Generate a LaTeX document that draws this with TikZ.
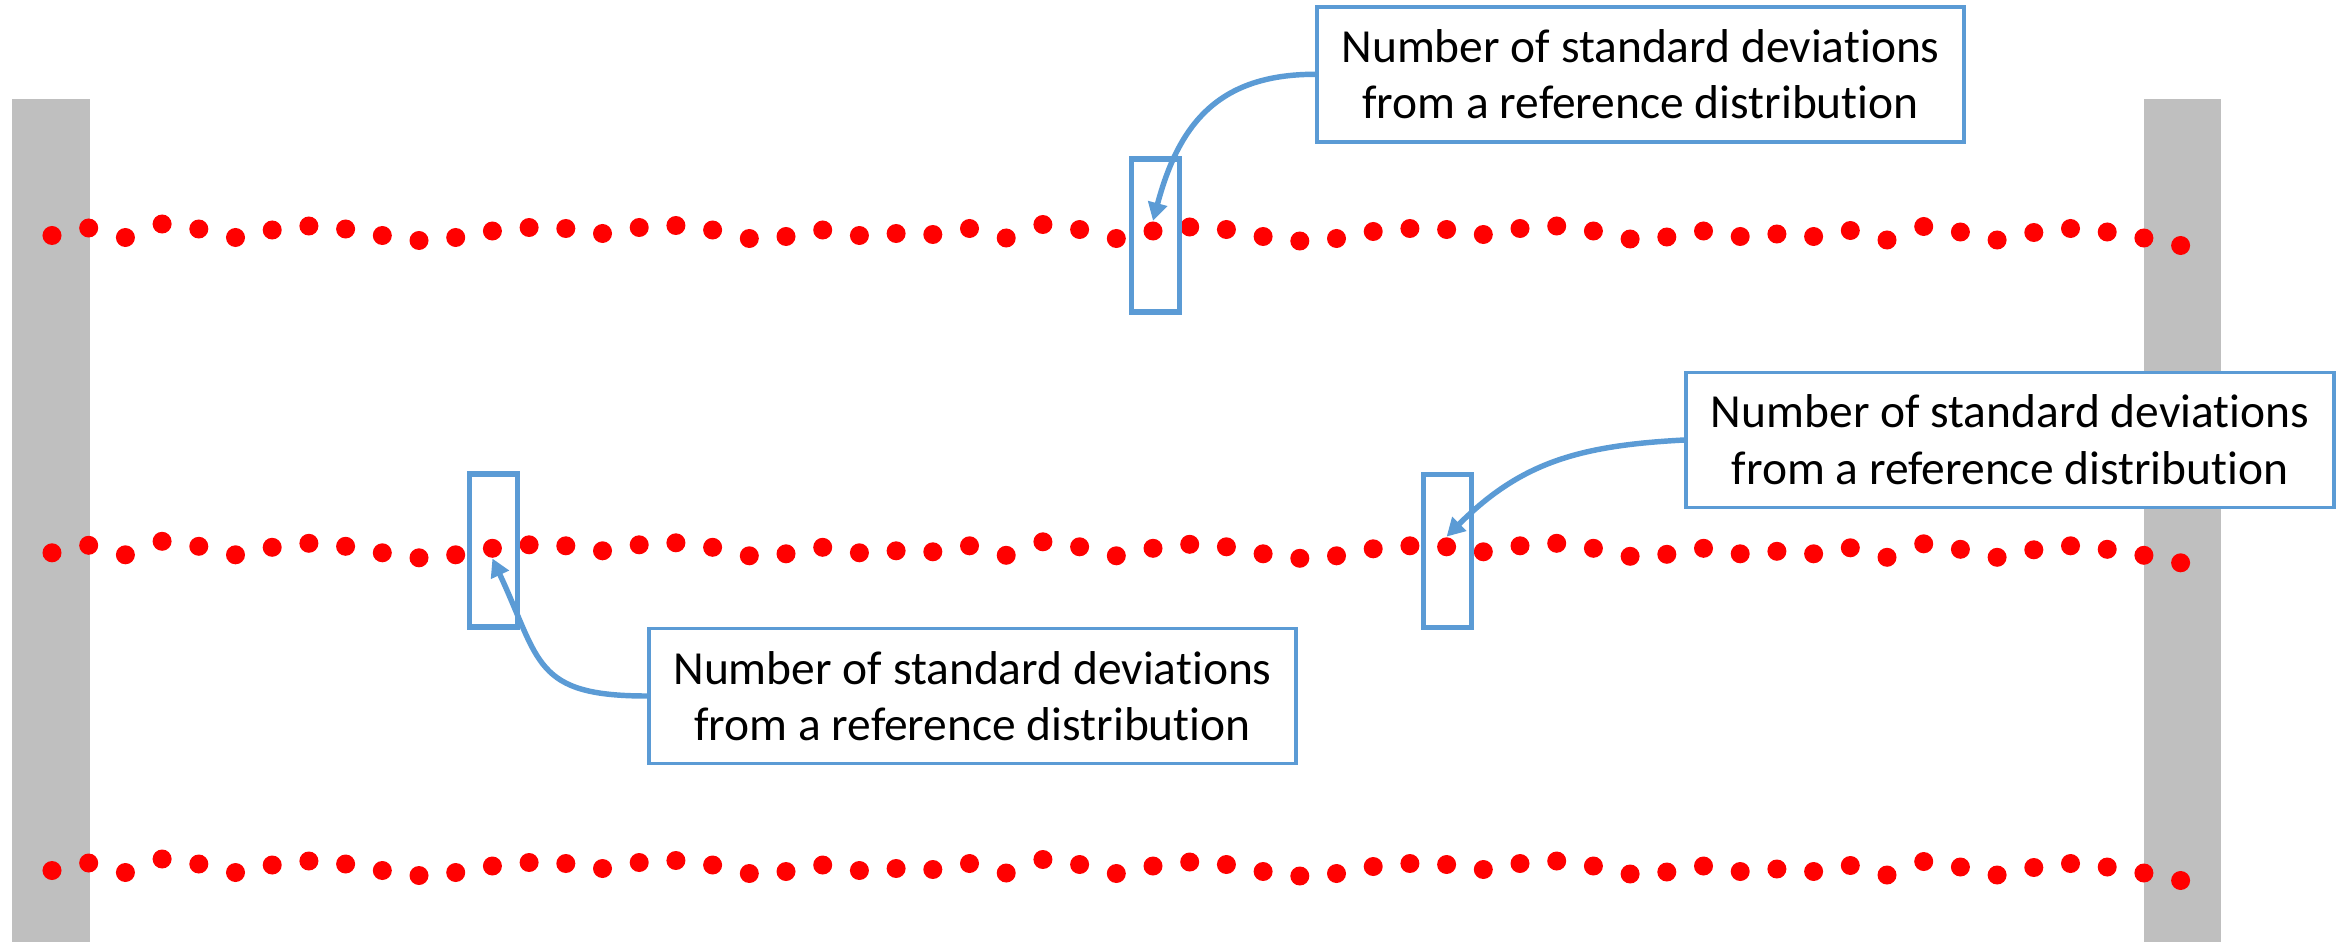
\documentclass[tikz,border=0pt]{standalone}
\usepackage{fontspec}
\setmainfont{Carlito}[Ligatures={NoCommon,NoContextual}, RawFeature={-liga;-clig;-calt}]
\usetikzlibrary{arrows.meta}
\definecolor{callblue}{HTML}{5B9BD5}
\definecolor{bargray}{HTML}{BFBFBF}
\definecolor{dotred}{HTML}{FF0000}
% caption text, with t and i kept as separate letters
\newcommand{\sdtext}{Number of standard deviat\kern0pt ions\\from a reference distribut\kern0pt ion}
\begin{document}
\begin{tikzpicture}[
  x=0.01cm, y=0.01cm,
  bead/.style={circle, fill=dotred, inner sep=0pt, minimum size=0.19cm},
  probe/.style={draw=callblue, line width=1.5pt, inner sep=0pt,
                minimum width=0.48cm, minimum height=1.53cm},
  callout/.style={draw=callblue, line width=1.1pt, fill=white, inner sep=0pt,
                  minimum width=6.47cm, minimum height=1.35cm, align=center,
                  font=\fontsize{13.5pt}{16.1pt}\selectfont},
  pointer/.style={draw=callblue, line width=1.55pt,
                  -{Triangle[length=0.18cm, width=0.19cm]}}
]
\useasboundingbox (0,0) rectangle (2340,942);

% side posts
\fill[bargray] (12,0) rectangle (90,843);
\fill[bargray] (2144,0) rectangle (2221,843);

% three rows of beads sharing the same vertical jitter
\foreach \v [count=\i from 0] in {235.5,228,237.5,224,229,237.5,230,226,229,235.5,
  240.5,237.5,231,227.5,228.5,233.5,227.5,225.5,230,238.5,
  236.5,230,235.5,233.5,234.5,228.5,238,224.5,229.5,238.5,
  231,227,229.5,236.5,241,238.5,231.5,228.5,229.5,234.5,
  228.5,226,231,239,237,231,236.5,234,236.5,230.5,
  240,226.5,232,240,232.5,228.5,232,238,245.5}{
  \node[bead] (t\i) at ({52+36.7*\i},{942-\v}) {};
  \node[bead] (m\i) at ({52+36.7*\i},{942-317.3-\v}) {};
  \node[bead] (b\i) at ({52+36.7*\i},{942-635-\v}) {};
}

% highlight frames around single beads
\node[probe] (fa) at (1155.5,706.5) {};
\node[probe] (fb) at (493.3,391.5) {};
\node[probe] (fc) at (1447.3,391) {};

% labels
\node[callout] (c1) at (1640.5,867.7) {\sdtext};
\node[callout] (c2) at (2010,502) {\sdtext};
\node[callout] (c3) at (972.5,246) {\sdtext};

% curved pointers
\draw[pointer] (c1.west) to[out=180, in=75, looseness=1.15] (t30.north);
\draw[pointer] (c2.west) to[out=183, in=45, looseness=1.05] (m38.north);
\draw[pointer] (c3.west) to[out=180, in=-65, looseness=1.4] (m12.south);
\end{tikzpicture}
\end{document}
